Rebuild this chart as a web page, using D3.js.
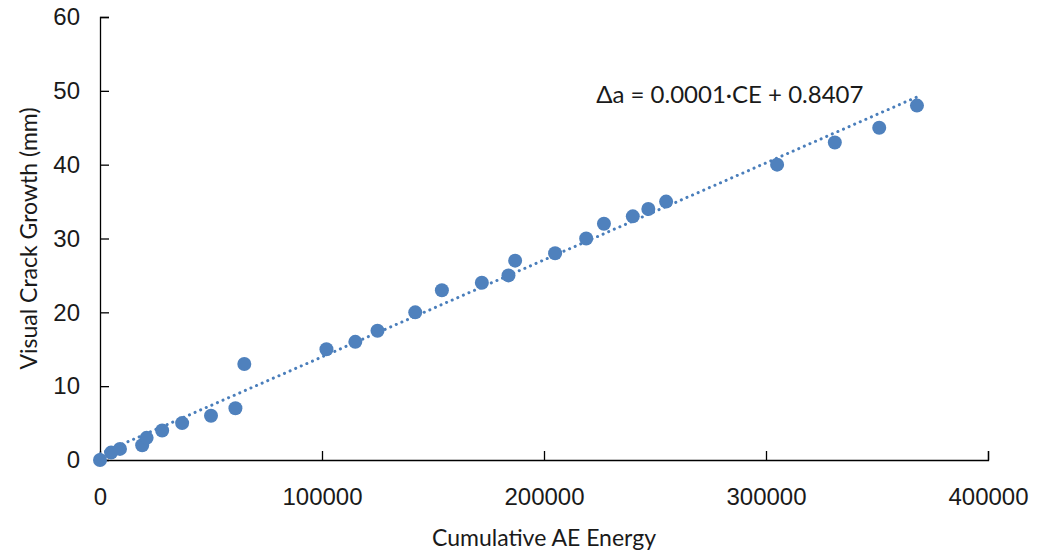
<!DOCTYPE html>
<html>
<head>
<meta charset="utf-8">
<script src="https://cdn.jsdelivr.net/npm/d3@7"></script>
<style>
  body { margin: 0; background: #fff; }
  svg { font-family: Lato, "Open Sans", sans-serif; }
</style>
</head>
<body>
<svg id="chart" width="1044" height="559"></svg>
<script>
// cumulative AE energy vs visual crack growth (mm)
const energy = [0, 5000, 9000, 19000, 21000, 28000, 37000, 50000, 61000, 65000,
  102000, 115000, 125000, 142000, 154000, 172000, 184000, 187000, 205000, 219000,
  227000, 240000, 247000, 255000, 305000, 331000, 351000, 368000];
const growth = [0, 1, 1.5, 2, 3, 4, 5, 6, 7, 13,
  15, 16, 17.5, 20, 23, 24, 25, 27, 28, 30,
  32, 33, 34, 35, 40, 43, 45, 48];
const xTicks = [0, 100000, 200000, 300000, 400000];
const yTicks = [0, 10, 20, 30, 40, 50, 60];
const equation = "Δa = 0.0001·CE + 0.8407";

const C = { dot: "#4f81bd", trend: "#4a7ebb", axis: "#000", text: "#1a1a1a" };
const margin = { top: 17, right: 56, bottom: 99, left: 100 };
const W = 1044, H = 559;
const width = W - margin.left - margin.right;
const height = H - margin.top - margin.bottom;

const svg = d3.select("#chart");
const g = svg.append("g").attr("transform", `translate(${margin.left},${margin.top})`);

const x = d3.scaleLinear().domain([0, 400000]).range([0, width]);
const y = d3.scaleLinear().domain([0, 60]).range([height, 0]);

// least-squares linear trend
const data = energy.map((e, i) => ({ e, a: growth[i] }));
const mx = d3.mean(energy), my = d3.mean(growth);
const slope = d3.sum(data, d => (d.e - mx) * (d.a - my)) / d3.sum(data, d => (d.e - mx) ** 2);
const icpt = my - slope * mx;

// axes, ticks pointing inward
const xAxis = g.append("g").attr("transform", `translate(0,${height})`)
  .call(d3.axisBottom(x).tickValues(xTicks).tickSize(-9).tickPadding(28).tickFormat(d3.format("d")));
const yAxis = g.append("g")
  .call(d3.axisLeft(y).tickValues(yTicks).tickSize(-9).tickPadding(20));
[xAxis, yAxis].forEach(a => {
  a.selectAll("path, line").attr("stroke", C.axis).attr("stroke-width", 1.3);
  a.selectAll("text").style("font-size", "24px").attr("fill", C.text);
});
xAxis.selectAll(".tick").filter(d => d === 0).select("line").remove();
yAxis.selectAll(".tick").filter(d => d === 0).select("line").remove();

// trend line
g.append("line")
  .attr("x1", x(0)).attr("y1", y(icpt))
  .attr("x2", x(d3.max(energy))).attr("y2", y(icpt + slope * d3.max(energy)))
  .attr("stroke", C.trend).attr("stroke-width", 3)
  .attr("stroke-linecap", "round").attr("stroke-dasharray", "0.1 6");

// points
g.selectAll(".pt").data(data).enter().append("circle")
  .attr("cx", d => x(d.e)).attr("cy", d => y(d.a))
  .attr("r", 7).attr("fill", C.dot);

// equation label
g.append("text").attr("x", x(223500)).attr("y", y(48.4))
  .style("font-size", "24px").attr("fill", C.text).text(equation);

// axis titles
svg.append("text").attr("x", margin.left + x(200000)).attr("y", 546)
  .attr("text-anchor", "middle").style("font-size", "23px").attr("fill", C.text)
  .text("Cumulative AE Energy");
svg.append("text").attr("transform", `translate(37,${margin.top + y(30)}) rotate(-90)`)
  .attr("text-anchor", "middle").style("font-size", "23px").attr("fill", C.text)
  .text("Visual Crack Growth (mm)");
</script>
</body>
</html>
